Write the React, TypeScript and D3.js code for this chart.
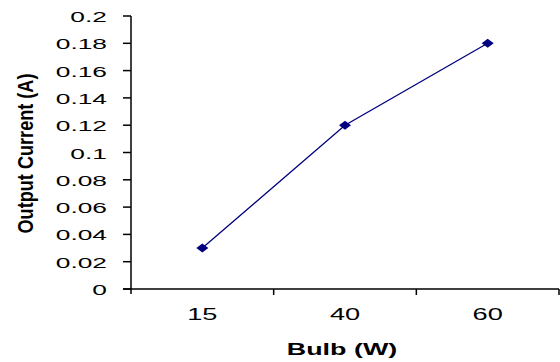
import React from "react";
import * as d3 from "d3";

const categories = ["15", "40", "60"];
const currents = [0.03, 0.12, 0.18];
const yTicks = [0, 0.02, 0.04, 0.06, 0.08, 0.1, 0.12, 0.14, 0.16, 0.18, 0.2];

const W = 560;
const H = 362;
const m = { left: 131, right: 559, top: 16, bottom: 289 };
const SX = 1.7; // horizontal stretch of the source picture's text

export default function App() {
  const x = d3.scaleBand<string>().domain(categories).range([m.left, m.right]);
  const y = d3.scaleLinear().domain([0, 0.2]).range([m.bottom, m.top]);
  const line = d3
    .line<number>()
    .x((_, i) => (x(categories[i]) as number) + x.bandwidth() / 2)
    .y((d) => y(d));
  const font = "Arial, 'Liberation Sans', sans-serif";
  const boundaries = categories.map((c) => (x(c) as number) + x.bandwidth());
  return (
    <svg
      width={W}
      height={H}
      style={{ position: "absolute", left: 0, top: 0, background: "#fff" }}
    >
      {/* y axis */}
      <line x1={m.left} x2={m.left} y1={m.top} y2={m.bottom + 5} stroke="#000" strokeWidth={1.5} />
      {yTicks.map((t) => (
        <g key={t}>
          <line x1={m.left - 8} x2={m.left} y1={y(t)} y2={y(t)} stroke="#000" strokeWidth={1.5} />
          <text
            transform={`translate(${m.left - 24}, ${y(t) + 6}) scale(${SX}, 1)`}
            textAnchor="end"
            fontFamily={font}
            fontSize={15.5}
          >
            {d3.format("")(t)}
          </text>
        </g>
      ))}
      {/* x axis */}
      <line x1={m.left - 8} x2={m.right} y1={m.bottom} y2={m.bottom} stroke="#000" strokeWidth={1.5} />
      {boundaries.map((b, i) => (
        <line key={i} x1={b} x2={b} y1={m.bottom} y2={m.bottom + 6} stroke="#000" strokeWidth={1.5} />
      ))}
      {categories.map((c) => (
        <text
          key={c}
          transform={`translate(${(x(c) as number) + x.bandwidth() / 2}, 320) scale(${SX}, 1)`}
          textAnchor="middle"
          fontFamily={font}
          fontSize={16}
        >
          {c}
        </text>
      ))}
      <text
        transform={`translate(${(m.left + m.right) / 2 - 3}, 355) scale(1.65, 1)`}
        textAnchor="middle"
        fontFamily={font}
        fontWeight="bold"
        fontSize={16.3}
      >
        Bulb (W)
      </text>
      <text
        transform={`translate(33, 153.5) rotate(-90) scale(0.98, 1.2)`}
        textAnchor="middle"
        fontFamily={font}
        fontWeight="bold"
        fontSize={18.5}
      >
        Output Current (A)
      </text>
      {/* series */}
      <path d={line(currents) || ""} fill="none" stroke="#000080" strokeWidth={1.3} />
      {currents.map((v, i) => {
        const cx = (x(categories[i]) as number) + x.bandwidth() / 2;
        const cy = y(v);
        return (
          <path
            key={i}
            d={`M${cx - 6},${cy} L${cx},${cy - 4.5} L${cx + 6},${cy} L${cx},${cy + 4.5} Z`}
            fill="#000080"
          />
        );
      })}
    </svg>
  );
}
